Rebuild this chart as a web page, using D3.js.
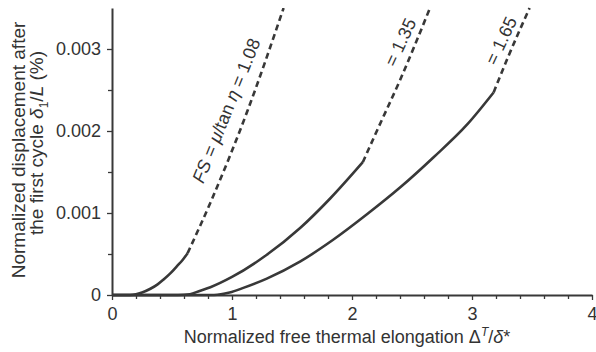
<!DOCTYPE html>
<html>
<head>
<meta charset="utf-8">
<script src="https://cdn.jsdelivr.net/npm/d3@7"></script>
<style>
  body { margin: 0; background: #fff; }
  text { font-family: "Liberation Sans", Arial, sans-serif; fill: #333; }
</style>
</head>
<body>
<div id="canvas"></div>
<script>
"use strict";

/**** CONFIGURATION ****/
let svgWidth = 596;
let svgHeight = 352;
let ink = "#383838";

/**** DATA ****/
let xTicks = [0, 1, 2, 3, 4];
let xMinor = [0.2, 0.4, 0.6, 0.8, 1.2, 1.4, 1.6, 1.8, 2.2, 2.4, 2.6, 2.8, 3.2, 3.4, 3.6, 3.8];
let yTicks = [0, 0.001, 0.002, 0.003];
let yMinor = [0.0005, 0.0015, 0.0025];

// FS = 1.08
let fs108SolidX = [0, 0.15, 0.2, 0.25, 0.32, 0.38, 0.43, 0.49, 0.54, 0.59, 0.63];
let fs108SolidY = [0, 0, 0.000008, 0.00003, 0.000076, 0.00013, 0.00019, 0.00027, 0.00035, 0.00043, 0.00051];
let fs108DashX = [0.63, 0.83, 1.13, 1.43];
let fs108DashY = [0.00051, 0.00116, 0.00225, 0.0035];

// FS = 1.35
let fs135SolidX = [0, 0.55, 0.65, 0.73, 0.82, 1.0, 1.29, 1.57, 1.82, 2.09];
let fs135SolidY = [0, 0, 0.00001, 0.00005, 0.000095, 0.00022, 0.00049, 0.00082, 0.00118, 0.00162];
let fs135DashX = [2.09, 2.21, 2.4, 2.65];
let fs135DashY = [0.00162, 0.00201, 0.00262, 0.0035];

// FS = 1.65
let fs165SolidX = [0, 0.85, 0.98, 1.1, 1.29, 1.57, 1.84, 2.13, 2.4, 2.68, 2.96, 3.18];
let fs165SolidY = [0, 0, 0.00003, 0.00009, 0.0002, 0.00041, 0.00067, 0.00099, 0.00131, 0.00168, 0.00208, 0.00247];
let fs165DashX = [3.18, 3.3, 3.48];
let fs165DashY = [0.00247, 0.0029, 0.0035];

/**** SVG ****/
let svg = d3.select("#canvas")
    .append("svg")
    .attr("width", svgWidth)
    .attr("height", svgHeight);

/**** SCALES ****/
let xScale = d3.scaleLinear()
    .domain([0, 4])
    .range([112, 592]);

let yScale = d3.scaleLinear()
    .domain([0, 0.0035])
    .range([295, 8]);

/**** AXES ****/
let xAxis = svg.append("g")
    .attr("transform", `translate(0,${yScale(0)})`)
    .call(d3.axisBottom(xScale).tickValues(xTicks).tickSize(5).tickSizeOuter(0).tickFormat(d3.format("d")));

svg.append("g")
    .attr("transform", `translate(0,${yScale(0)})`)
    .call(d3.axisBottom(xScale).tickValues(xMinor).tickSize(4).tickFormat(""))
    .call(g => g.select(".domain").remove());

let yAxis = svg.append("g")
    .attr("transform", `translate(${xScale(0)},0)`)
    .call(d3.axisLeft(yScale).tickValues(yTicks).tickSize(5).tickSizeOuter(0)
        .tickFormat(d => d === 0 ? "0" : d3.format(".3f")(d)));

svg.append("g")
    .attr("transform", `translate(${xScale(0)},0)`)
    .call(d3.axisLeft(yScale).tickValues(yMinor).tickSize(4).tickFormat(""))
    .call(g => g.select(".domain").remove());

svg.selectAll(".domain")
    .attr("stroke", ink)
    .attr("stroke-width", 2);

svg.selectAll(".tick line")
    .attr("stroke", ink)
    .attr("stroke-width", 1.3);

svg.selectAll(".tick text")
    .style("font-size", "18px")
    .attr("fill", "#333");

xAxis.selectAll(".tick text").attr("dy", "0.95em");
yAxis.selectAll(".tick text").attr("x", -11);

/**** CURVES ****/
let line = d3.line()
    .x(d => xScale(d[0]))
    .y(d => yScale(d[1]))
    .curve(d3.curveMonotoneX);

function drawCurve(xs, ys, dashed) {
    let pts = xs.map((x, i) => [x, ys[i]]);
    svg.append("path")
        .attr("d", line(pts))
        .attr("fill", "none")
        .attr("stroke", ink)
        .attr("stroke-width", 2.6)
        .attr("stroke-dasharray", dashed ? "6,4" : null);
}

drawCurve(fs108SolidX, fs108SolidY, false);
drawCurve(fs108DashX, fs108DashY, true);
drawCurve(fs135SolidX, fs135SolidY, false);
drawCurve(fs135DashX, fs135DashY, true);
drawCurve(fs165SolidX, fs165SolidY, false);
drawCurve(fs165DashX, fs165DashY, true);

/**** CURVE LABELS ****/
let lab1 = svg.append("text")
    .attr("transform", `translate(${xScale(1.0)},${yScale(0.00222)}) rotate(-68)`)
    .attr("text-anchor", "middle")
    .style("font-size", "18px");
lab1.append("tspan").style("font-style", "italic").text("FS");
lab1.append("tspan").text(" = ");
lab1.append("tspan").style("font-style", "italic").text("μ");
lab1.append("tspan").text("/tan ");
lab1.append("tspan").style("font-style", "italic").text("η");
lab1.append("tspan").text(" = 1.08");

svg.append("text")
    .attr("transform", `translate(${xScale(2.45)},${yScale(0.00305)}) rotate(-65)`)
    .attr("text-anchor", "middle")
    .style("font-size", "18px")
    .text("= 1.35");

svg.append("text")
    .attr("transform", `translate(${xScale(3.29)},${yScale(0.00307)}) rotate(-65)`)
    .attr("text-anchor", "middle")
    .style("font-size", "18px")
    .text("= 1.65");

/**** AXIS TITLES ****/
let xTitle = svg.append("text")
    .attr("x", 347)
    .attr("y", 343)
    .attr("text-anchor", "middle")
    .style("font-size", "18px");
xTitle.append("tspan").text("Normalized free thermal elongation Δ");
xTitle.append("tspan").attr("dy", -7).style("font-size", "12px").style("font-style", "italic").text("T");
xTitle.append("tspan").attr("dy", 7).text("/");
xTitle.append("tspan").style("font-style", "italic").text("δ");
xTitle.append("tspan").text("*");

svg.append("text")
    .attr("transform", "translate(25,150) rotate(-90)")
    .attr("text-anchor", "middle")
    .style("font-size", "19px")
    .text("Normalized displacement after");

let yTitle2 = svg.append("text")
    .attr("transform", "translate(43,143) rotate(-90)")
    .attr("text-anchor", "middle")
    .style("font-size", "19px");
yTitle2.append("tspan").text("the first cycle ");
yTitle2.append("tspan").style("font-style", "italic").text("δ");
yTitle2.append("tspan").attr("dy", 5).style("font-size", "12px").text("1");
yTitle2.append("tspan").attr("dy", -5).text("/");
yTitle2.append("tspan").style("font-style", "italic").text("L");
yTitle2.append("tspan").text(" (%)");
</script>
</body>
</html>
